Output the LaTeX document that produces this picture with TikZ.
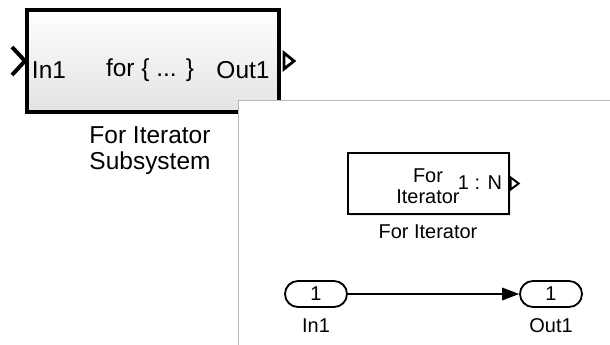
\documentclass[tikz,border=0pt]{standalone}
\usepackage{fontspec}
\setmainfont{Liberation Sans}
\usetikzlibrary{arrows.meta,shadows}
\tikzset{
  px/.style={x=0.025cm,y=-0.025cm},
  bigtxt/.style={font=\fontsize{17.4}{18.4}\selectfont,inner sep=0pt},
  smalltxt/.style={font=\fontsize{14.2}{15}\selectfont,inner sep=0pt},
  subblock/.style={draw,line width=2.8pt,top color=white,bottom color=gray!22,
    minimum width=6.3cm,minimum height=2.55cm,inner sep=0pt,
    drop shadow={opacity=0.2,shadow xshift=0.06cm,shadow yshift=-0.06cm}},
  iterblock/.style={draw,line width=0.9pt,fill=white,
    minimum width=4.025cm,minimum height=1.525cm,inner sep=0pt,
    drop shadow={opacity=0.2,shadow xshift=0.05cm,shadow yshift=-0.05cm}},
  portoval/.style={draw,line width=1.3pt,fill=white,rounded corners=0.325cm,
    minimum width=1.55cm,minimum height=0.65cm,inner sep=0pt,
    font=\fontsize{14.2}{15}\selectfont},
  panel/.style={draw=gray!55,line width=0.6pt}
}
\begin{document}
\begin{tikzpicture}[px]
  \useasboundingbox (0,0) rectangle (610,344);
  % subsystem block
  \node[subblock] (sub) at (153,61) {};
  \draw[line width=2.8pt] (sub.west) ++(-13,-14) -- (sub.west) -- ++(-13,14);
  \draw[line width=2pt,fill=white,line join=miter] (sub.east) ++(3,-8) -- ++(10,8) -- ++(-10,8) -- cycle;
  \node[bigtxt] (subin) at (49,70) {In1};
  \node[bigtxt] (subfor) at (150,70) {for \{ ... \}};
  \node[bigtxt] (subout) at (243,70) {Out1};
  \node[bigtxt,align=center] (sublabel) at (150,151) {For Iterator\\Subsystem};
  % inner panel
  \fill[white] (238,100) rectangle (614,348);
  \draw[panel] (614,100) -- (238,100) -- (238,348);
  % for iterator
  \node[iterblock] (iter) at (428.5,183.5) {};
  \draw[line width=1.4pt,fill=white] (iter.east) ++(1,-6) -- ++(8,6) -- ++(-8,6) -- cycle;
  \node[smalltxt,align=center] (itertxt) at (428,186) {For\\Iterator};
  \node[smalltxt] (itern) at (480,183) {1 : N};
  \node[smalltxt] (iterlabel) at (428,232) {For Iterator};
  % in / out ports
  \node[portoval] (in1) at (316,294) {1};
  \node[portoval] (out1) at (551,294) {1};
  \node[smalltxt] (in1label) at (316,326) {In1};
  \node[smalltxt] (out1label) at (551,326) {Out1};
  \draw[line width=0.8pt,-{Triangle[length=12pt,width=9pt]}] (in1) -- (out1);
\end{tikzpicture}
\end{document}
